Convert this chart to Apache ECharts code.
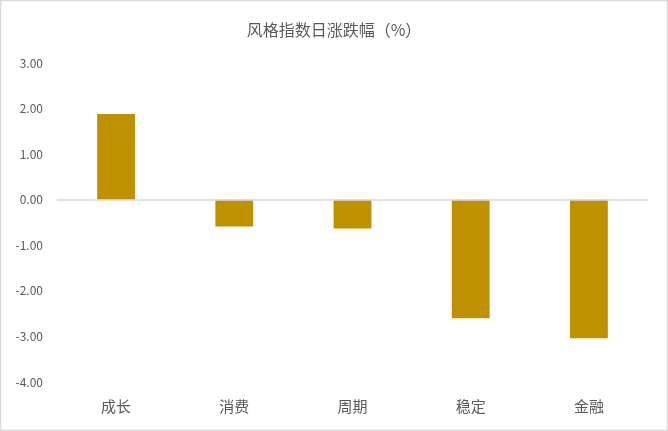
<!DOCTYPE html>
<html><head><meta charset="utf-8">
<script src="https://cdn.jsdelivr.net/npm/echarts@6/dist/echarts.min.js"></script>
<style>html,body{margin:0;padding:0;background:#fff}#c{width:668px;height:431px}</style>
</head><body><div id="c"></div>
<script>
const categories = ['成长', '消费', '周期', '稳定', '金融'];
const values = [1.88, -0.59, -0.63, -2.60, -3.04];
const yMin = -4, yMax = 3, yStep = 1;
const titleText = '风格指数日涨跌幅（%）';

const chart = echarts.init(document.getElementById('c'), null, {renderer: 'canvas'});
const font = '"Microsoft YaHei","Noto Sans CJK SC","Noto Sans",sans-serif';
chart.setOption({
  animation: false,
  backgroundColor: '#fff',
  title: {text: titleText, left: 'center', top: 17,
    textStyle: {fontFamily: font, fontSize: 16, fontWeight: 'normal', color: '#595959'}},
  graphic: [{type: 'rect', shape: {x: 0.5, y: 0.5, width: 667, height: 430},
    style: {fill: 'none', stroke: '#d9d9d9', lineWidth: 1.5}, silent: true}],
  grid: {left: 57, right: 20, top: 63, bottom: 49, containLabel: false},
  xAxis: {type: 'category', data: categories, position: 'bottom',
    axisLine: {show: false, onZero: false}, axisTick: {show: false},
    axisLabel: {margin: 17, fontFamily: font, fontSize: 15, color: '#595959'}},
  yAxis: {type: 'value', min: yMin, max: yMax, interval: yStep,
    axisLine: {show: false}, axisTick: {show: false}, splitLine: {show: false},
    axisLabel: {margin: 14, fontFamily: font, fontSize: 12, color: '#595959',
      formatter: v => v.toFixed(2)}},
  series: [{type: 'bar', data: values, barWidth: '32%',
    itemStyle: {color: '#BF9000'},
    markLine: {silent: true, symbol: 'none', label: {show: false},
      lineStyle: {color: '#d9d9d9', width: 1.5, type: 'solid'},
      data: [{yAxis: 0}]}}]
});
</script></body></html>
